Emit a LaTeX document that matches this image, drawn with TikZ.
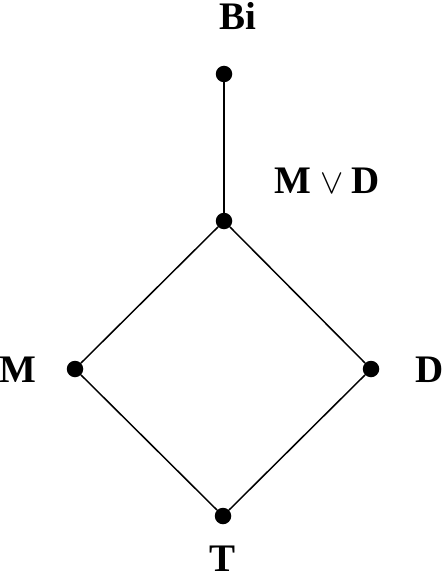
\documentclass[tikz,border=0pt]{standalone}
\usepackage{fontspec}
\setmainfont{Liberation Serif}
\begin{document}
\begin{tikzpicture}[x=1pt,y=-1pt,
  pt/.style={circle,fill=black,inner sep=0pt,minimum size=16.5pt},
  lbl/.style={font=\fontsize{39}{44}\selectfont\bfseries,inner sep=0pt,anchor=base},
  edge/.style={line width=1.5pt}]
\useasboundingbox (0,0) rectangle (443,575);
\node[pt] (bi) at (224,74) {};
\node[pt] (mvd) at (224,221) {};
\node[pt] (m) at (75,369) {};
\node[pt] (d) at (371,369) {};
\node[pt] (t) at (223,516) {};
\node[lbl] (lbi) at (238,30) {Bi};
\node[lbl] (lmvd) at (327.5,193) {M\hspace{9pt}\scalebox{1.4}{$\vee$}\hspace{8pt}D};
\node[lbl] (lm) at (18,382) {M};
\node[lbl] (ld) at (430,382) {D};
\node[lbl] (lt) at (222.5,571) {T};
\draw[edge] (bi) -- (mvd);
\draw[edge] (mvd) -- (m);
\draw[edge] (mvd) -- (d);
\draw[edge] (m) -- (t);
\draw[edge] (d) -- (t);
\end{tikzpicture}
\end{document}
